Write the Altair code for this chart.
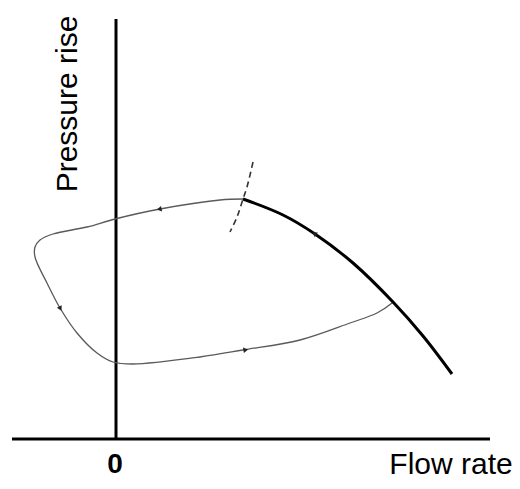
import altair as alt
import pandas as pd

# Compressor characteristic (thick line), flow vs pressure rise (arbitrary units)
char_flow = [1.27, 1.67, 1.99, 2.37, 2.77, 3.07, 3.36]
char_pres = [2.40, 2.24, 2.05, 1.76, 1.37, 1.03, 0.65]

# Surge line (dashed)
surge_flow = [1.37, 1.31, 1.27, 1.21, 1.14]
surge_pres = [2.77, 2.52, 2.40, 2.22, 2.07]

# Surge cycle loop (thin line)
loop_flow = [1.27, 1.04, 0.44, -0.01, -0.29, -0.63, -0.76, -0.81, -0.81,
             -0.69, -0.56, -0.39, -0.19, -0.03, 0.17, 0.84, 1.27, 1.84,
             2.34, 2.61, 2.76, 2.77]
loop_pres = [2.40, 2.39, 2.30, 2.20, 2.12, 2.05, 1.99, 1.92, 1.82,
             1.56, 1.31, 1.06, 0.86, 0.77, 0.75, 0.82, 0.89, 0.99,
             1.16, 1.26, 1.36, 1.37]

# Direction arrows on the cycle
arrow_flow = [1.99, 0.44, -0.56, 1.29]
arrow_pres = [2.05, 2.30, 1.31, 0.89]
arrow_angle = [303, 259, 153, 81]

# Axis lines
xaxis_flow = [-1.04, 3.74]
yaxis_pres = [0.0, 4.20]

labels_text = ["Pressure rise", "Flow rate", "0"]

char_df = pd.DataFrame({"flow": char_flow, "pres": char_pres, "o": range(len(char_flow))})
surge_df = pd.DataFrame({"flow": surge_flow, "pres": surge_pres, "o": range(len(surge_flow))})
loop_df = pd.DataFrame({"flow": loop_flow, "pres": loop_pres, "o": range(len(loop_flow))})
arrow_df = pd.DataFrame({"flow": arrow_flow, "pres": arrow_pres, "angle": arrow_angle})
xaxis_df = pd.DataFrame({"flow": xaxis_flow, "pres": [0.0, 0.0], "o": [0, 1]})
yaxis_df = pd.DataFrame({"flow": [0.0, 0.0], "pres": yaxis_pres, "o": [0, 1]})

xs = alt.Scale(domain=[-1.08, 3.96], nice=False, zero=False)
ys = alt.Scale(domain=[-0.42, 4.31], nice=False, zero=False)
X = alt.X("flow:Q", scale=xs, axis=None)
Y = alt.Y("pres:Q", scale=ys, axis=None)

def line(df, **kw):
    return alt.Chart(df).mark_line(**kw).encode(x=X, y=Y, order="o:Q")

axes = line(xaxis_df, color="black", strokeWidth=3) + line(yaxis_df, color="black", strokeWidth=3)
loop = line(loop_df, color="#5a5a5a", strokeWidth=1.3, interpolate="catmull-rom")
char = line(char_df, color="black", strokeWidth=3, interpolate="catmull-rom")
surge = line(surge_df, color="#333333", strokeWidth=1.6, strokeDash=[6, 4], interpolate="catmull-rom")
arrows = alt.Chart(arrow_df).mark_point(shape="triangle", filled=True, size=30, color="#222222", opacity=1).encode(
    x=X, y=Y, angle=alt.Angle("angle:Q", scale=None)
)

t1 = alt.Chart(pd.DataFrame({"flow": [-0.335], "pres": [3.35], "t": [labels_text[0]]})).mark_text(
    angle=270, fontSize=30, font="Liberation Sans", align="center", baseline="bottom", color="black"
).encode(x=X, y=Y, text="t:N")
t2 = alt.Chart(pd.DataFrame({"flow": [3.35], "pres": [-0.345], "t": [labels_text[1]]})).mark_text(
    fontSize=30, font="Liberation Sans", align="center", baseline="alphabetic", color="black"
).encode(x=X, y=Y, text="t:N")
t3 = alt.Chart(pd.DataFrame({"flow": [-0.01], "pres": [-0.34], "t": [labels_text[2]]})).mark_text(
    fontSize=28, font="Liberation Sans", fontWeight="bold", align="center", baseline="alphabetic", color="black"
).encode(x=X, y=Y, text="t:N")

chart = alt.layer(axes, loop, surge, char, arrows, t1, t2, t3).properties(
    width=504, height=473, padding=0, autosize=alt.AutoSizeParams(type="none")
).configure_view(stroke=None)

chart.save("out.html", embed_options={"renderer": "svg", "actions": False})
